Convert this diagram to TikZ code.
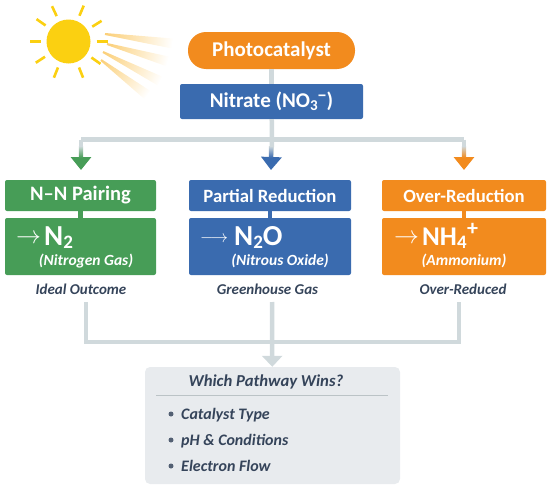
\documentclass[tikz,border=0pt]{standalone}
\usepackage{fontspec}
\setmainfont{Carlito}
\usetikzlibrary{arrows.meta,shadings}
\definecolor{catorange}{HTML}{F28B1E}
\definecolor{nitblue}{HTML}{3A6BAF}
\definecolor{pairgreen}{HTML}{479D57}
\definecolor{linkgrey}{HTML}{D0D9DC}
\definecolor{sunyellow}{HTML}{FBD011}
\definecolor{rayyellow}{HTML}{FBCF78}
\definecolor{inkslate}{HTML}{35445A}
\definecolor{panelgrey}{HTML}{E8EBEE}
\newcommand{\lowtxt}[1]{\raisebox{-.12em}{\fontsize{19}{19}\selectfont #1}}
\newcommand{\arrowtxt}[1]{\fontsize{#1}{#1}\selectfont}
\tikzset{
  headbox/.style={rounded corners=2pt, minimum height=31pt, text=white, inner sep=0pt,
    font=\fontsize{18.7}{22}\selectfont\bfseries},
  bodybox/.style={rounded corners=2pt, minimum height=57pt, inner sep=0pt},
  formula/.style={text=white, inner sep=0pt, anchor=base west, font=\fontsize{29}{30}\selectfont\bfseries},
  arrowmark/.style={text=white, inner sep=0pt, anchor=west},
  gasname/.style={text=white, inner sep=0pt, font=\fontsize{15.5}{17}\selectfont\itshape\bfseries},
  caption/.style={text=inkslate, inner sep=0pt, font=\fontsize{15}{17}\selectfont\itshape\bfseries},
  bullet/.style={text=inkslate, inner sep=0pt, anchor=base west, font=\fontsize{16}{18}\selectfont\itshape\bfseries},
  link/.style={draw=linkgrey, line width=4.5pt},
}
\begin{document}
\begin{tikzpicture}[x=1pt, y=-1pt]
  \useasboundingbox (0,0) rectangle (550,490);

  % sun
  \foreach \bx/\by/\ang/\len in {105/34/8/68, 107/44/16/63, 103/52/27/64, 101/60/37/58} {
    \shade[left color=rayyellow, right color=white, transform canvas={shift={(\bx,\by)}, rotate=-\ang}]
      (0,-1) -- (\len,-5) -- (\len,5) -- (0,1) -- cycle;
  }
  \node[circle, fill=sunyellow, minimum size=44pt, inner sep=0pt] (sun) at (68.5,41.5) {};
  \foreach \ang in {0,35,68,112,147,180,215,245,293,328} {
    \draw[sunyellow, line width=2.6pt] (sun) ++(\ang:28) -- ++(\ang:11);
  }

  % top boxes
  \node[fill=catorange, rounded corners=18pt, minimum width=167pt, minimum height=37pt, text=white,
    inner sep=0pt, font=\fontsize{21}{23}\selectfont\bfseries] (catalyst) at (271.5,50.5) {Photocatalyst};
  \node[fill=nitblue, rounded corners=2pt, minimum width=183pt, minimum height=35pt, text=white,
    inner sep=0pt, font=\fontsize{21}{23}\selectfont\bfseries] (nitrate) at (271.5,101.5) {Nitrate (NO\raisebox{-.15em}{\fontsize{15}{15}\selectfont 3}\raisebox{.3em}{\fontsize{18}{18}\selectfont −})};

  % three pathways
  \node[headbox, fill=pairgreen, minimum width=151pt, font=\fontsize{20.5}{22}\selectfont\bfseries] (pairing) at (80.5,195.5) {N–N Pairing};
  \node[bodybox, fill=pairgreen, minimum width=151pt] (pairbody) at (80.5,246.5) {};
  \node[headbox, fill=nitblue, minimum width=162pt] (partial) at (270,195.5) {Partial Reduction};
  \node[bodybox, fill=nitblue, minimum width=162pt] (partbody) at (270,246.5) {};
  \node[headbox, fill=catorange, minimum width=164pt] (over) at (464,195.5) {Over-Reduction};
  \node[bodybox, fill=catorange, minimum width=164pt] (overbody) at (464,246.5) {};

  \node[arrowmark] (arrowN) at (16,239) {\arrowtxt{26}$\rightarrow$};
  \node[arrowmark] (arrowM) at (200,239) {\arrowtxt{19}$\longrightarrow$};
  \node[arrowmark] (arrowO) at (394,239) {\arrowtxt{26}$\rightarrow$};
  \node[formula] (ntwo) at (44,245) {N\lowtxt{2}};
  \node[formula] (ntwoo) at (234,245) {N\lowtxt{2}O};
  \node[formula, font=\fontsize{27}{30}\selectfont\bfseries] (nhfour) at (422,245) {NH\lowtxt{4}};
  \node[text=white, inner sep=0pt, font=\fontsize{22}{22}\selectfont\bfseries] (plus) at (472.5,229) {+};
  \node[gasname] (ntwoname) at (86,261) {(Nitrogen Gas)};
  \node[gasname] (ntwooname) at (280,261) {(Nitrous Oxide)};
  \node[gasname] (nhfourname) at (464,261) {(Ammonium)};

  \node[caption] (ideal) at (81,289) {Ideal Outcome};
  \node[caption] (green) at (267.5,289) {Greenhouse Gas};
  \node[caption] (reduced) at (463,289) {Over-Reduced};

  % summary panel
  \node[fill=panelgrey, rounded corners=5pt, minimum width=255pt, minimum height=117pt, inner sep=0pt] (panel) at (272.5,425.5) {};
  \node[text=inkslate, inner sep=0pt, font=\fontsize{16.7}{20}\selectfont\itshape\bfseries] (wins) at (266,382) {Which Pathway Wins?};
  \coordinate (ruleL) at (156,395);
  \coordinate (ruleR) at (388,395);
  \draw[linkgrey!90!black, line width=0.8pt] (ruleL) -- (ruleR);
  \foreach \nm/\yy/\txt in {catalysttype/414/Catalyst Type, phcond/440/pH \& Conditions, eflow/466/Electron Flow} {
    \node[circle, fill=inkslate!85, minimum size=5pt, inner sep=0pt] (dot\nm) at (171,\yy) {};
    \node[bullet] (\nm) at (181,\yy+5) {\txt};
  }

  % connectors
  \coordinate (split) at (272,139.5);
  \coordinate (merge) at (272,342);
  \coordinate (dropN) at (81,170);
  \coordinate (dropM) at (271,170);
  \coordinate (dropO) at (464,170);
  \coordinate (fromN) at (86,302);
  \coordinate (fromM) at (272,302);
  \coordinate (fromO) at (459,302);

  \draw[link] (catalyst) -- (nitrate);
  \draw[link] (nitrate) -- (split);
  \draw[link] (dropN |- split) -- (dropO |- split);
  \draw[link, -{Triangle[width=20pt,length=13pt,fill=pairgreen,color=pairgreen]}] (dropN |- split) -- (dropN);
  \draw[link, -{Triangle[width=20pt,length=13pt,fill=nitblue,color=nitblue]}] (split) -- (dropM);
  \draw[link, -{Triangle[width=20pt,length=13pt,fill=catorange,color=catorange]}] (dropO |- split) -- (dropO);
  \shade[top color=linkgrey, bottom color=pairgreen] (78.8,146) rectangle (83.2,157.5);
  \shade[top color=linkgrey, bottom color=nitblue] (268.8,146) rectangle (273.2,157.5);
  \shade[top color=linkgrey, bottom color=catorange] (461.8,146) rectangle (466.2,157.5);
  \draw[pairgreen, line width=4.5pt] (pairing) -- (pairbody);
  \draw[nitblue, line width=4.5pt] (partial) -- (partbody);
  \draw[catorange, line width=4.5pt] (over) -- (overbody);

  \draw[link] (fromN) |- (merge);
  \draw[link] (fromO) |- (merge);
  \draw[link, -{Triangle[width=20pt,length=11pt,fill=linkgrey,color=linkgrey]}] (fromM) -- (panel);
\end{tikzpicture}
\end{document}
